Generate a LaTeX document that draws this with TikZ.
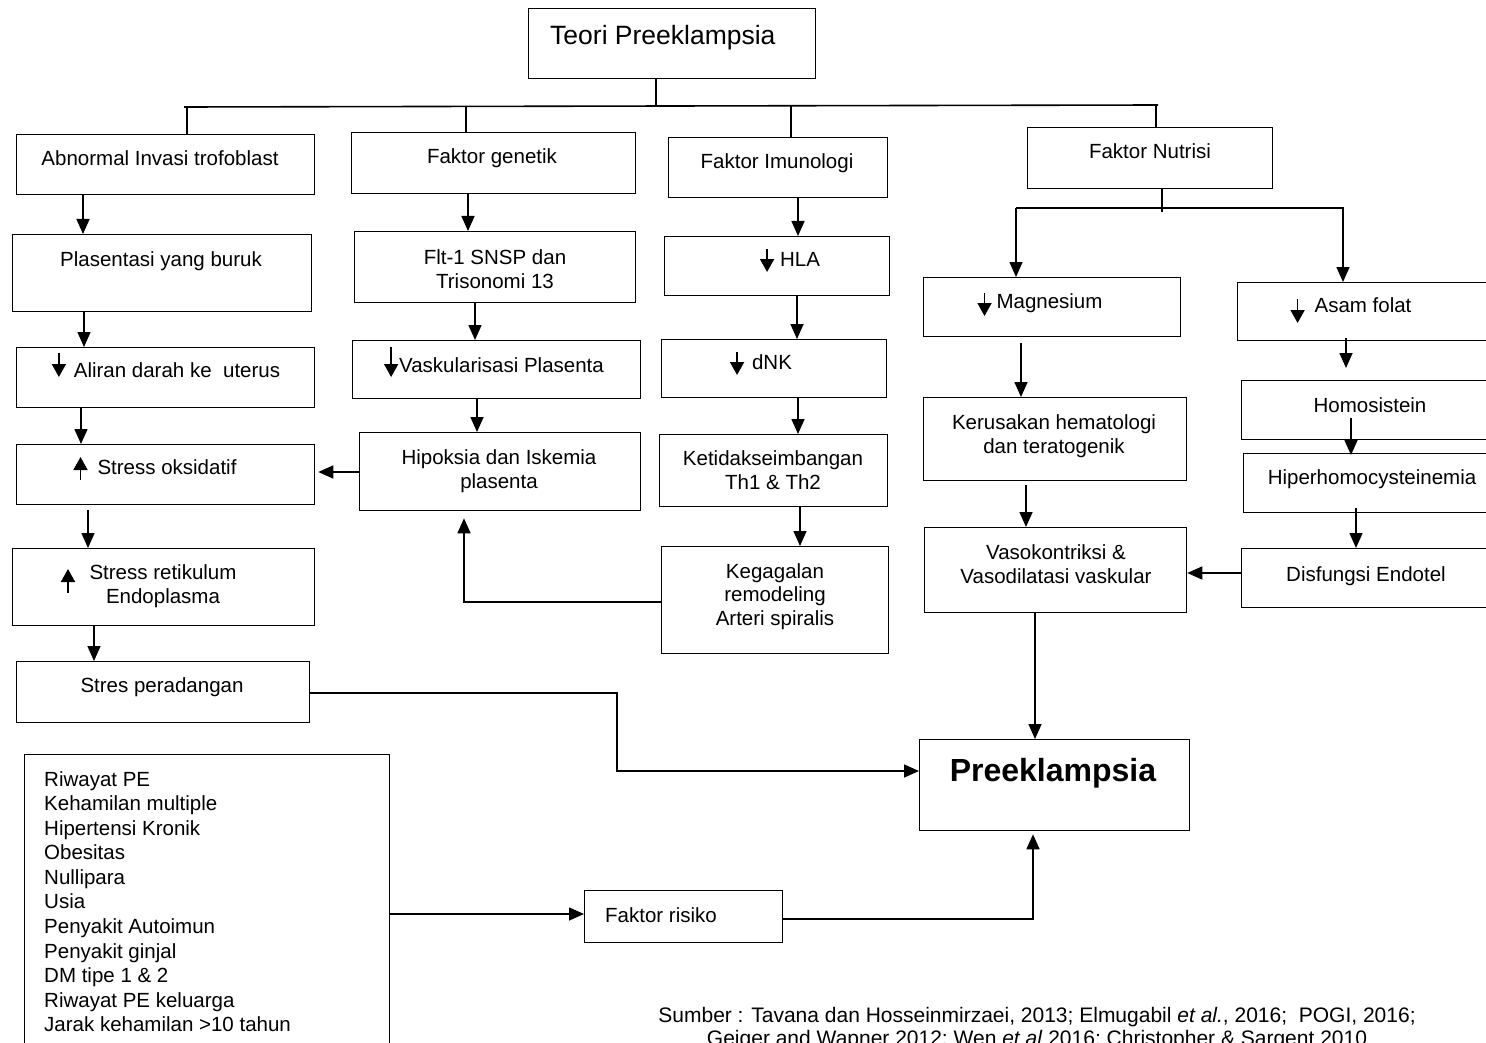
\documentclass[tikz,border=0pt]{standalone}
\usepackage{fontspec}
\setmainfont{Liberation Sans}
\usetikzlibrary{arrows.meta,calc}
\newcommand{\fs}{\fontsize{20.5}{24.5}\selectfont}
\newcommand{\dnar}[2]{\tikz[baseline=0pt]\draw[line width=1.8pt,-{Triangle[length=13pt,width=14pt]}] (0pt,#1) -- (0pt,#2);}
\newcommand{\upar}[2]{\tikz[baseline=0pt]\draw[line width=1.8pt,-{Triangle[length=13pt,width=14pt]}] (0pt,#2) -- (0pt,#1);}
\newcommand{\bx}[5]{\node[box, minimum width={(#4-#2)*1pt}, minimum height={(#5-#3)*1pt}] (#1) at (#2,#3) {};}
\begin{document}
\begin{tikzpicture}[x=1pt,y=-1pt,
  box/.style={draw, line width=1.3pt, inner sep=0pt, anchor=north west},
  txt/.style={font=\fs, inner sep=0pt, align=center},
  arr/.style={line width=1.6pt, -{Triangle[length=15pt,width=13pt]}},
  icon/.style={line width=1.8pt, -{Triangle[length=13pt,width=14pt]}},
  ln/.style={line width=1.6pt}]
\useasboundingbox (0,0) rectangle (1486,1043);
\fill[white] (0,0) rectangle (1486,1043);
% ---------- boxes
\bx{teori}{528}{8}{815}{78}
\bx{abn}{16}{134}{314}{194}
\bx{gen}{351}{132}{635}{193}
\bx{imu}{668}{137}{887}{197}
\bx{nut}{1027}{127}{1272}{188}
\bx{pla}{12}{234}{311}{311}
\bx{flt}{354}{231}{635}{302}
\bx{hla}{664}{236}{889}{295}
\bx{mg}{923}{277}{1180}{336}
\bx{asam}{1237}{282}{1495}{340}
\bx{ali}{16}{347}{314}{407}
\bx{vas}{352}{340}{640}{398}
\bx{dnk}{661}{339}{886}{397}
\bx{ker}{923}{397}{1186}{480}
\bx{homo}{1241}{380}{1495}{439}
\bx{so}{16}{444}{314}{504}
\bx{hip}{359}{432}{640}{510}
\bx{keti}{659}{434}{887}{506}
\bx{hiper}{1243}{453}{1495}{512}
\bx{ret}{12}{548}{314}{625}
\bx{keg}{661}{546}{888}{653}
\bx{vaso}{924}{527}{1186}{612}
\bx{disf}{1241}{548}{1495}{607}
\bx{sp}{16}{661}{309}{722}
\bx{pre}{919}{739}{1189}{830}
\bx{risk}{24}{754}{389}{1070}
\bx{fr}{584}{890}{782}{942}
% ---------- texts
\node[txt, font=\fontsize{26.5}{30}\selectfont, anchor=north west] (teori-t) at (550,25) {Teori Preeklampsia};
\node[txt, anchor=north] (abn-t) at (160,150) {Abnormal Invasi trofoblast};
\node[txt, anchor=north] (gen-t) at (492,148) {Faktor genetik};
\node[txt, anchor=north] (imu-t) at (777,153) {Faktor Imunologi};
\node[txt, anchor=north] (nut-t) at (1150,143) {Faktor Nutrisi};
\node[txt, anchor=north] (pla-t) at (161,251) {Plasentasi yang buruk};
\node[txt, anchor=north] (flt-t) at (495,249) {Flt-1 SNSP dan\\Trisonomi 13};
\node[txt, anchor=base] (ali-t) at (166,377) {\dnar{24pt}{0pt}\hspace{8pt}Aliran darah ke\ \ uterus};
\node[txt, anchor=base] (vas-t) at (494,372) {\dnar{25pt}{-5pt}\hspace{1pt}Vaskularisasi Plasenta};
\node[txt, anchor=base] (hla-t) at (790,266) {\dnar{17pt}{-6pt}\hspace{6pt}HLA};
\node[txt, anchor=base] (dnk-t) at (761,369) {\dnar{17pt}{-6pt}\hspace{8pt}dNK};
\node[txt, anchor=base] (so-t) at (155,474) {\upar{17pt}{-6pt}\hspace{10pt}Stress oksidatif};
\node[txt, anchor=north] (ret-t) at (163,564) {Stress retikulum\\Endoplasma};
\draw[icon] (68,593) -- (68,569);
\node[txt, anchor=north] (sp-t) at (162,677) {Stres peradangan};
\node[txt, anchor=north] (hip-t) at (499,449) {Hipoksia dan Iskemia\\plasenta};
\node[txt, anchor=north] (keti-t) at (773,450) {Ketidakseimbangan\\Th1 \& Th2};
\node[txt, anchor=north, font=\fontsize{20.5}{23.5}\selectfont] (keg-t) at (775,563) {Kegagalan\\remodeling\\Arteri spiralis};
\node[txt, anchor=base] (mg-t) at (1040,308) {\dnar{15pt}{-8pt}\hspace{5pt}Magnesium};
\node[txt, anchor=base] (asam-t) at (1351,312) {\dnar{13pt}{-11pt}\hspace{10pt}Asam folat};
\node[txt, anchor=north] (homo-t) at (1370,397) {Homosistein};
\node[txt, anchor=north] (hiper-t) at (1372,469) {Hiperhomocysteinemia};
\node[txt, anchor=north] (ker-t) at (1054,414) {Kerusakan hematologi\\dan teratogenik};
\node[txt, anchor=north] (vaso-t) at (1056,544) {Vasokontriksi \&\\Vasodilatasi vaskular};
\node[txt, anchor=north] (disf-t) at (1366,566) {Disfungsi Endotel};
\node[txt, anchor=north, font=\fontsize{32}{38}\selectfont\bfseries] (pre-t) at (1053,758) {Preeklampsia};
\node[txt, anchor=north west] (fr-t) at (605,907) {Faktor risiko};
\node[txt, anchor=north west, align=left, font=\fontsize{20.5}{24.57}\selectfont] (risk-t) at (44,771)
 {Riwayat PE\\Kehamilan multiple\\Hipertensi Kronik\\Obesitas\\Nullipara\\Usia\\Penyakit Autoimun\\Penyakit ginjal\\DM tipe 1 \& 2\\Riwayat PE keluarga\\Jarak kehamilan >10 tahun};
\node[txt, anchor=north, font=\fontsize{21}{23.5}\selectfont] (src-t) at (1037,1007)
 {Sumber : Tavana dan Hosseinmirzaei, 2013; Elmugabil \textit{et al.}, 2016;\ \ POGI, 2016;\\Geiger and Wapner 2012; Wen \textit{et al} 2016; Christopher \& Sargent 2010};
% ---------- top tree
\coordinate (bus) at (656,106);
\coordinate (busL) at (184,107);
\coordinate (busR) at (1158,105);
\draw[ln] (teori.south -| bus) -- (bus);
\draw[ln] (busL) -- (busR);
\draw[ln] (187,107) -- (abn.north -| 187,0);
\draw[ln] (466,106) -- (gen.north -| 466,0);
\draw[ln] (791,106) -- (imu.north -| 791,0);
\draw[ln] (1156,105) -- (nut.north -| 1156,0);
% ---------- nutrisi branch
\coordinate (nbus) at (1162,208);
\draw[ln] (nut.south -| nbus) -- (1162,212);
\draw[ln] (1016,208) -- (1344,208);
\draw[arr] (1016,208) -- (mg.north -| 1016,0);
\draw[arr] (1343,208) -- (asam.north -| 1343,0);
% ---------- column 1
\draw[arr] (abn.south -| 83,0) -- (pla.north -| 83,0);
\draw[arr] (pla.south -| 84,0) -- (ali.north -| 84,0);
\draw[arr] (ali.south -| 81,0) -- (so.north -| 81,0);
\draw[arr] ($(so.south -| 88,0)+(0,5)$) -- (ret.north -| 88,0);
\draw[arr] (ret.south -| 94,0) -- (sp.north -| 94,0);
% ---------- column 2
\draw[arr] (gen.south -| 468,0) -- (flt.north -| 468,0);
\draw[arr] (flt.south -| 475,0) -- (vas.north -| 475,0);
\draw[arr] (vas.south -| 477,0) -- (hip.north -| 477,0);
\draw[arr] (hip.west |- 0,472) -- ($(so.east |- 0,472)+(3,0)$);
% ---------- column 3
\draw[arr] (imu.south -| 798,0) -- (hla.north -| 798,0);
\draw[arr] (hla.south -| 797,0) -- (dnk.north -| 797,0);
\draw[arr] (dnk.south -| 798,0) -- (keti.north -| 798,0);
\draw[arr] (keti.south -| 800,0) -- (keg.north -| 800,0);
\draw[arr] (keg.west |- 0,602) -| ($(hip.south -| 464,0)+(0,7)$);
% ---------- column 4 / 5
\draw[arr] ($(mg.south -| 1021,0)+(0,6)$) -- (ker.north -| 1021,0);
\draw[arr] ($(ker.south -| 1026,0)+(0,4)$) -- (vaso.north -| 1026,0);
\draw[arr] ($(asam.south -| 1346,0)+(0,-3)$) -- ($(homo.north -| 1346,0)+(0,-12)$);
\draw[arr] (1351,418) -- ($(hiper.north -| 1351,0)+(0,2)$);
\draw[arr] ($(hiper.south -| 1356,0)+(0,-5)$) -- (disf.north -| 1356,0);
\draw[arr] (disf.west |- 0,573) -- (vaso.east |- 0,573);
\draw[arr] (vaso.south -| 1035,0) -- (pre.north -| 1035,0);
% ---------- to Preeklampsia
\draw[arr] (sp.east |- 0,693) -| (617,771) -- (pre.west |- 0,771);
\draw[arr] (risk.east |- 0,914) -- (fr.west |- 0,914);
\draw[arr] (fr.east |- 0,919) -| ($(pre.south -| 1033,0)+(0,3)$);
\end{tikzpicture}
\end{document}
